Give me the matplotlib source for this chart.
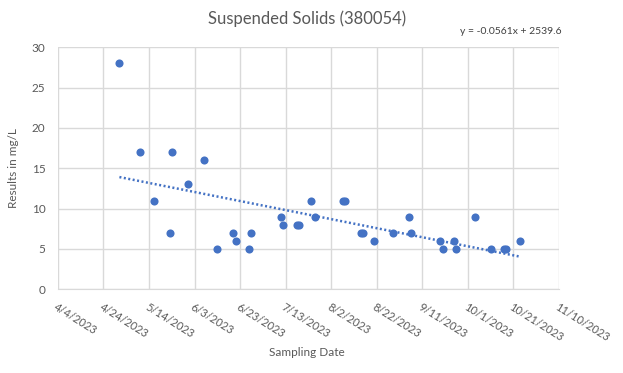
import datetime as dt

import matplotlib.dates as mdates
import matplotlib.pyplot as plt
import numpy as np

plt.rcParams['font.family'] = ['Lato', 'DejaVu Sans']

# sample dates and results (mg/L)
dates = ['2023-05-01', '2023-05-10', '2023-05-16', '2023-05-23', '2023-05-24',
         '2023-05-31', '2023-06-07', '2023-06-13', '2023-06-20', '2023-06-21',
         '2023-06-27', '2023-06-28', '2023-07-11', '2023-07-12', '2023-07-18',
         '2023-07-19', '2023-07-24', '2023-07-26', '2023-08-07', '2023-08-08',
         '2023-08-15', '2023-08-16', '2023-08-21', '2023-08-29', '2023-09-05',
         '2023-09-06', '2023-09-19', '2023-09-20', '2023-09-25', '2023-09-26',
         '2023-10-04', '2023-10-11', '2023-10-17', '2023-10-18', '2023-10-24']
results = [28, 17, 11, 7, 17,
           13, 16, 5, 7, 6,
           5, 7, 9, 8, 8,
           8, 11, 9, 11, 11,
           7, 7, 6, 7, 9,
           7, 6, 5, 6, 5,
           9, 5, 5, 5, 6]

tick_dates = ['2023-04-04', '2023-04-24', '2023-05-14', '2023-06-03', '2023-06-23',
              '2023-07-13', '2023-08-02', '2023-08-22', '2023-09-11', '2023-10-01',
              '2023-10-21', '2023-11-10']

title = 'Suspended Solids (380054)'
equation = 'y = -0.0561x + 2539.6'

blue = '#4472C4'
grey = '#595959'
grid = '#D9D9D9'

x = [mdates.date2num(dt.date.fromisoformat(d)) for d in dates]
ticks = [mdates.date2num(dt.date.fromisoformat(d)) for d in tick_dates]

fig = plt.figure(figsize=(6.23, 3.73), dpi=100)
ax = fig.add_axes([0.093, 0.2244, 0.804, 0.6488])

ax.scatter(x, results, s=34, color=blue, zorder=3, linewidths=0)

# linear trendline over the data range
coef = np.polyfit(x, results, 1)
xt = np.array([min(x), max(x)])
ax.plot(xt, np.polyval(coef, xt), color=blue, lw=1.8,
        linestyle=(0, (0.8, 1.0)), zorder=2)

ax.set_xlim(ticks[0], ticks[-1])
ax.set_ylim(0, 30)
ax.set_xticks(ticks)
ax.set_xticklabels([f'{d.month}/{d.day}/{d.year}' for d in
                    (dt.date.fromisoformat(t) for t in tick_dates)],
                   rotation=-32, ha='left', va='top', rotation_mode='anchor',
                   fontsize=8)
ax.set_yticks(range(0, 31, 5))
ax.grid(True, color=grid, lw=1)
ax.set_axisbelow(True)
ax.tick_params(axis='y', length=0, labelsize=8.5, colors=grey, pad=9)
ax.tick_params(axis='x', length=0, colors=grey, pad=9)
for side in ['left', 'right', 'top']:
    ax.spines[side].set_visible(False)
ax.spines['bottom'].set_color(grid)

ax.set_ylabel('Results in mg/L', fontsize=8.5, color=grey, labelpad=9)
fig.text(0.493, 0.056, 'Sampling Date', fontsize=8.5, color=grey, ha='center', va='center')
fig.text(0.493, 0.949, title, fontsize=12, color=grey, ha='center', va='center')
fig.text(0.820, 0.915, equation, fontsize=7.5, color='#404040', ha='center', va='center')

fig.savefig('out.png', dpi=100, facecolor='white')
